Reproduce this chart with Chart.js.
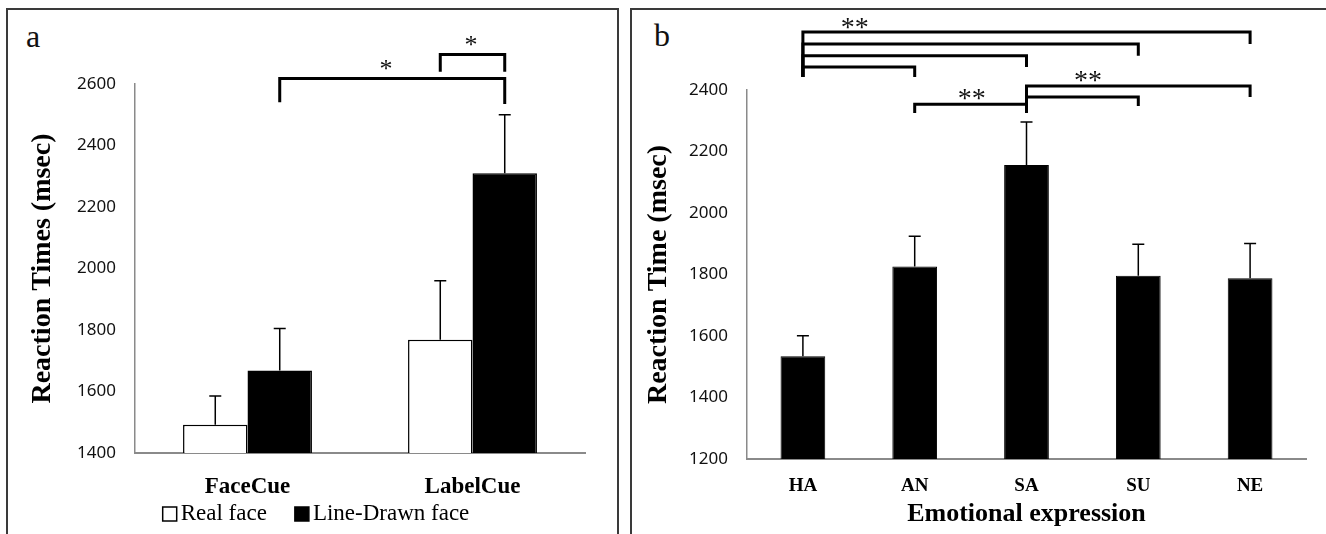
<!DOCTYPE html>
<html>
<head>
<meta charset="utf-8">
<script src="https://cdn.jsdelivr.net/npm/chart.js@4.4.1/dist/chart.umd.min.js"></script>
<style>
  body { margin: 0; background: #fff; width: 1326px; height: 534px; overflow: hidden; position: relative; }
  .panel { position: absolute; top: 8px; height: 600px; border: 2px solid #3a3a3a; box-sizing: border-box; }
  .tag { position: absolute; font-family: "Liberation Serif", serif; font-size: 32px; line-height: 32px; color: #111; }
  canvas { position: absolute; }
</style>
</head>
<body>
<div class="panel" style="left:6px; width:613px;"></div>
<div class="panel" style="left:630px; width:710px;"></div>
<span class="tag" style="left:26px; top:20px;">a</span>
<span class="tag" style="left:654px; top:19px;">b</span>
<canvas id="chartA" width="609" height="525" style="left:8px; top:9px;"></canvas>
<canvas id="chartB" width="695" height="525" style="left:631px; top:9px;"></canvas>
<script>
// panel a
const catsA = ['FaceCue', 'LabelCue'];
const realFace = [1492, 1768];
const lineDrawn = [1668, 2310];
const realFaceErr = [93, 192];
const lineDrawnErr = [137, 190];
// [cat1, series1, cat2, series2, line value, leg1 end, leg2 end]
const bracketsA = [
  [0, 1, 1, 1, 2618, 2541, 2535],
  [1, 0, 1, 1, 2696, 2640, 2640]
];
// [category position, value, text]
const starsA = [[0.616, 2645, '*'], [0.993, 2722, '*']];

// panel b
const catsB = ['HA', 'AN', 'SA', 'SU', 'NE'];
const rtB = [1534, 1826, 2156, 1796, 1788];
const rtErrB = [67, 98, 140, 102, 113];
const bracketsB = [
  [0, 0, 4, 0, 2589, 2442, 2550],
  [0, 0, 3, 0, 2550, 2442, 2511],
  [0, 0, 2, 0, 2511, 2442, 2475],
  [0, 0, 1, 0, 2475, 2442, 2442],
  [1, 0, 2, 0, 2354, 2325, 2325],
  [2, 0, 3, 0, 2377, 2325, 2348],
  [2, 0, 4, 0, 2413, 2325, 2377]
];
const starsB = [[0.464, 2601, '**'], [1.51, 2370, '**'], [2.55, 2426, '**']];

const serif = 'Liberation Serif';
const sans = 'Noto Sans';

// error bars, significance brackets, stars and the legend row
const extras = {
  id: 'extras',
  afterDatasetsDraw(chart, args, opts) {
    const ctx = chart.ctx, xs = chart.scales.x, ys = chart.scales.y;
    ctx.save();
    ctx.strokeStyle = '#000';
    ctx.lineWidth = 1.5;
    opts.errors.forEach((errs, d) => {
      chart.getDatasetMeta(d).data.forEach((bar, i) => {
        const top = ys.getPixelForValue(chart.data.datasets[d].data[i] + errs[i]);
        ctx.beginPath();
        ctx.moveTo(bar.x, bar.y);
        ctx.lineTo(bar.x, top);
        ctx.moveTo(bar.x - 6, top);
        ctx.lineTo(bar.x + 6, top);
        ctx.stroke();
      });
    });
    ctx.lineWidth = 3;
    ctx.lineCap = 'butt';
    opts.brackets.forEach(b => {
      const x1 = chart.getDatasetMeta(b[1]).data[b[0]].x;
      const x2 = chart.getDatasetMeta(b[3]).data[b[2]].x;
      const yl = ys.getPixelForValue(b[4]);
      ctx.beginPath();
      ctx.moveTo(x1, ys.getPixelForValue(b[5]));
      ctx.lineTo(x1, yl);
      ctx.lineTo(x2, yl);
      ctx.lineTo(x2, ys.getPixelForValue(b[6]));
      ctx.stroke();
    });
    ctx.fillStyle = '#111';
    ctx.font = opts.starSize + 'px "' + serif + '"';
    ctx.textAlign = 'center';
    ctx.textBaseline = 'middle';
    opts.stars.forEach(s => ctx.fillText(s[2], xs.getPixelForValue(s[0]), ys.getPixelForValue(s[1])));

    if (opts.legend) {
      const lg = opts.legend, sets = chart.data.datasets;
      ctx.font = lg.size + 'px "' + serif + '"';
      ctx.textAlign = 'left';
      const widths = sets.map(ds => lg.box + lg.gap + ctx.measureText(ds.label).width);
      const total = widths.reduce((a, b) => a + b, 0) + lg.spacing * (sets.length - 1);
      let x = lg.cx - total / 2;
      sets.forEach((ds, i) => {
        ctx.fillStyle = ds.backgroundColor;
        ctx.fillRect(x, lg.y - lg.box / 2, lg.box, lg.box);
        ctx.lineWidth = 1.5;
        ctx.strokeStyle = ds.borderColor;
        ctx.strokeRect(x, lg.y - lg.box / 2, lg.box, lg.box);
        ctx.fillStyle = '#000';
        ctx.fillText(ds.label, x + lg.box + lg.gap, lg.y);
        x += widths[i] + lg.spacing;
      });
    }
    ctx.restore();
  }
};

function yAxis(min, max, width, title, titlePad) {
  return {
    min: min, max: max,
    afterFit: s => { s.width = width; },
    grid: { display: false, drawTicks: false },
    border: { display: true, color: '#8a8a8a', width: 1.5 },
    ticks: { stepSize: 200, padding: 19, color: '#111', font: { family: sans, size: 17 },
             callback: v => String(v) },
    title: { display: true, text: title, color: '#000', padding: { top: titlePad, bottom: 0 },
             font: { family: serif, size: 28, weight: 'bold' } }
  };
}

new Chart(document.getElementById('chartA'), {
  type: 'bar',
  data: {
    labels: catsA,
    datasets: [
      { label: 'Real face', data: realFace, backgroundColor: '#fff', borderColor: '#000', borderWidth: 1.5 },
      { label: 'Line-Drawn face', data: lineDrawn, backgroundColor: '#000', borderColor: '#000', borderWidth: 1.5 }
    ]
  },
  options: {
    responsive: false,
    animation: false,
    categoryPercentage: 0.573,
    barPercentage: 1,
    layout: { padding: { top: 75, right: 32, left: 0, bottom: 0 } },
    scales: {
      x: {
        afterFit: s => { s.height = 81; },
        grid: { display: false, drawTicks: false },
        border: { display: true, color: '#8a8a8a', width: 2 },
        ticks: { padding: 20, color: '#000', font: { family: serif, size: 23, weight: 'bold' } }
      },
      y: yAxis(1400, 2600, 127, 'Reaction Times (msec)', 18)
    },
    plugins: {
      legend: { display: false },
      tooltip: { enabled: false },
      extras: {
        errors: [realFaceErr, lineDrawnErr], brackets: bracketsA, stars: starsA, starSize: 26,
        legend: { cx: 308, y: 505, box: 14, gap: 4, spacing: 28, size: 23 }
      }
    }
  },
  plugins: [extras]
});

new Chart(document.getElementById('chartB'), {
  type: 'bar',
  data: {
    labels: catsB,
    datasets: [
      { label: 'Reaction Time', data: rtB, backgroundColor: '#000', borderColor: '#000', borderWidth: 1 }
    ]
  },
  options: {
    responsive: false,
    animation: false,
    categoryPercentage: 0.4,
    barPercentage: 1,
    layout: { padding: { top: 81, right: 20, left: 0, bottom: 0 } },
    scales: {
      x: {
        afterFit: s => { s.height = 75; },
        grid: { display: false, drawTicks: false },
        border: { display: true, color: '#8a8a8a', width: 2 },
        ticks: { padding: 16, color: '#000', font: { family: serif, size: 19, weight: 'bold' } },
        title: { display: true, text: 'Emotional expression', color: '#000', padding: { top: 0, bottom: 4 },
                 font: { family: serif, size: 26, weight: 'bold' } }
      },
      y: yAxis(1200, 2400, 116, 'Reaction Time (msec)', 11)
    },
    plugins: {
      legend: { display: false },
      tooltip: { enabled: false },
      extras: { errors: [rtErrB], brackets: bracketsB, stars: starsB, starSize: 28 }
    }
  },
  plugins: [extras]
});
</script>
</body>
</html>
